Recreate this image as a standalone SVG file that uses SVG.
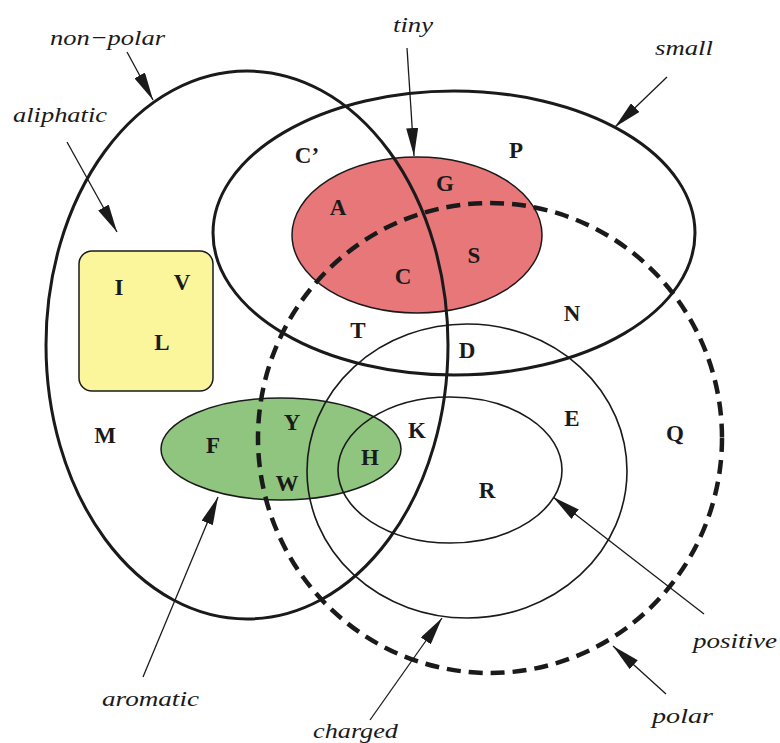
<svg xmlns="http://www.w3.org/2000/svg" width="780" height="743" viewBox="0 0 780 743">
<style>
.set{fill:none;stroke:#1a1a1a}
.thick{stroke-width:3}
.thin{stroke-width:1.6}
.dash{stroke-width:4.5;stroke-dasharray:14 8}
.fillset{stroke:#1a1a1a;stroke-width:1.5}
.lbl{font-family:"Liberation Serif","Times New Roman",serif;font-style:italic;font-size:22px;fill:#1a1a1a}
.mem{font-family:"Liberation Serif","Times New Roman",serif;font-weight:bold;font-size:23px;fill:#1a1a1a;text-anchor:middle}
.arr{stroke:#1a1a1a;stroke-width:1.3;fill:none;marker-end:url(#ah)}
</style>
<defs>
<marker id="ah" markerUnits="userSpaceOnUse" markerWidth="28" markerHeight="12" refX="28" refY="6" orient="auto">
<path d="M0,0 L28,6 L0,12 z" fill="#1a1a1a"/>
</marker>
</defs>
<rect width="780" height="743" fill="#ffffff"/>
<g id="aliphatic">
<rect x="79" y="251" width="134" height="140" rx="13" fill="#FBF59B" class="fillset"/>
<text class="lbl" x="13" y="122" textLength="94" lengthAdjust="spacingAndGlyphs">aliphatic</text>
</g>
<g id="aromatic">
<ellipse cx="281" cy="449" rx="120" ry="51" fill="#8FC57F" class="fillset"/>
<text class="lbl" x="102" y="706" textLength="97" lengthAdjust="spacingAndGlyphs">aromatic</text>
</g>
<g id="tiny">
<ellipse cx="417" cy="235" rx="125" ry="78" fill="#E8777A" class="fillset"/>
<text class="lbl" x="393" y="32" textLength="40" lengthAdjust="spacingAndGlyphs">tiny</text>
</g>
<g id="non-polar">
<ellipse cx="247" cy="345" rx="201" ry="274" class="set thick"/>
<text class="lbl" x="50" y="45" textLength="115" lengthAdjust="spacingAndGlyphs">non−polar</text>
</g>
<g id="small">
<ellipse cx="454" cy="233" rx="241" ry="142" class="set thick"/>
<text class="lbl" x="655" y="55" textLength="58" lengthAdjust="spacingAndGlyphs">small</text>
</g>
<g id="polar">
<ellipse cx="490" cy="438" rx="232" ry="235" class="set dash"/>
<text class="lbl" x="652" y="723" textLength="61" lengthAdjust="spacingAndGlyphs">polar</text>
</g>
<g id="charged">
<ellipse cx="467" cy="471" rx="160" ry="147" class="set thin"/>
<text class="lbl" x="313" y="738" textLength="85" lengthAdjust="spacingAndGlyphs">charged</text>
</g>
<g id="positive">
<ellipse cx="450" cy="470" rx="112" ry="73" class="set thin"/>
<text class="lbl" x="693" y="648" textLength="84" lengthAdjust="spacingAndGlyphs">positive</text>
</g>
<g id="members">
<text class="mem" x="307" y="163">C’</text>
<text class="mem" x="516" y="158">P</text>
<text class="mem" x="445" y="191">G</text>
<text class="mem" x="338" y="215">A</text>
<text class="mem" x="474" y="263">S</text>
<text class="mem" x="403" y="284">C</text>
<text class="mem" x="358" y="338">T</text>
<text class="mem" x="467" y="358">D</text>
<text class="mem" x="572" y="321">N</text>
<text class="mem" x="572" y="426">E</text>
<text class="mem" x="675" y="441">Q</text>
<text class="mem" x="417" y="438">K</text>
<text class="mem" x="292" y="430">Y</text>
<text class="mem" x="370" y="465">H</text>
<text class="mem" x="287" y="491">W</text>
<text class="mem" x="487" y="498">R</text>
<text class="mem" x="213" y="453">F</text>
<text class="mem" x="105" y="443">M</text>
<text class="mem" x="119" y="295">I</text>
<text class="mem" x="182" y="290">V</text>
<text class="mem" x="162" y="350">L</text>
</g>
<g id="connectors">
<line class="arr" x1="127" y1="52" x2="153" y2="100"/>
<line class="arr" x1="67" y1="142" x2="117" y2="232"/>
<line class="arr" x1="407" y1="48" x2="414" y2="156"/>
<line class="arr" x1="667" y1="77" x2="615" y2="127"/>
<line class="arr" x1="143" y1="677" x2="218" y2="497"/>
<line class="arr" x1="370" y1="720" x2="442" y2="618"/>
<line class="arr" x1="704" y1="614" x2="553" y2="497"/>
<line class="arr" x1="666" y1="694" x2="613" y2="646"/>
</g>
</svg>
